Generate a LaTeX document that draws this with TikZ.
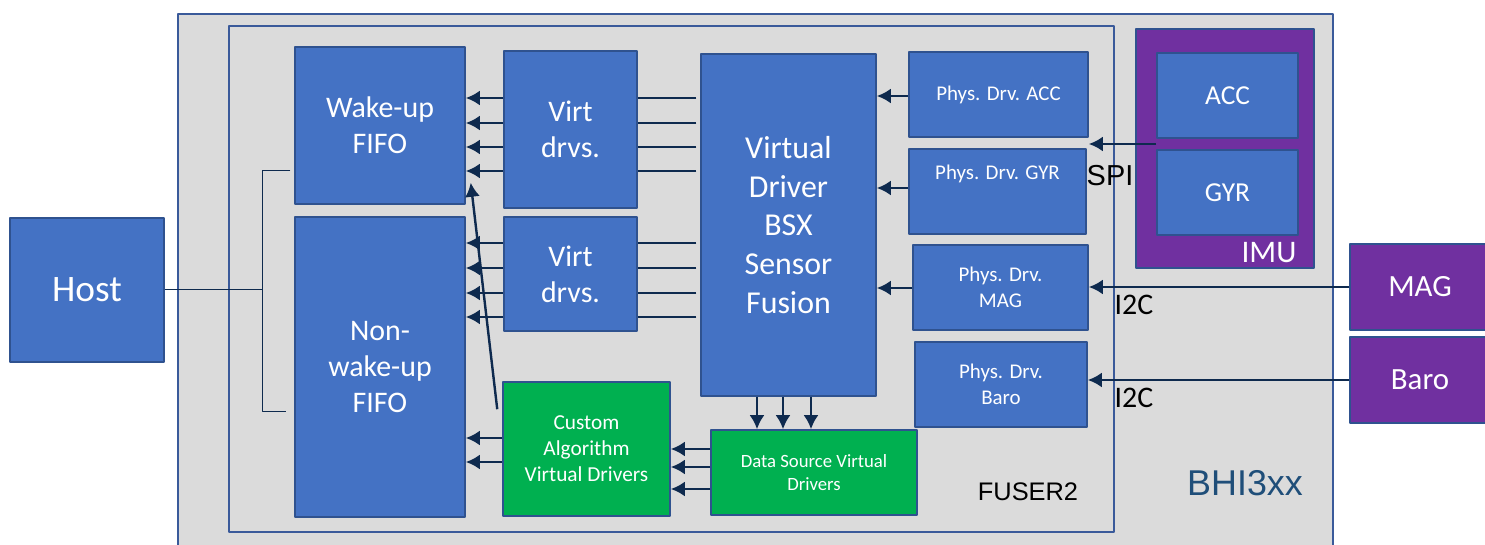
\documentclass[tikz,border=0pt]{standalone}
\usepackage{fontspec}
\setmainfont{Carlito}
\newfontfamily\arialfont{Liberation Sans}
\usepackage{tikz}
\usetikzlibrary{arrows.meta,shapes}
\definecolor{boxblue}{HTML}{4472C4}
\definecolor{boxedge}{HTML}{2F528F}
\definecolor{chipgray}{HTML}{DBDBDB}
\definecolor{chipedge}{HTML}{3A5A9A}
\definecolor{imupurple}{HTML}{7030A0}
\definecolor{algogreen}{HTML}{00B050}
\definecolor{wire}{HTML}{0E2A4E}
\definecolor{bhiblue}{HTML}{1F4E79}

\begin{document}
\begin{tikzpicture}[line join=bevel,
  blk/.style={draw=boxedge,fill=boxblue,line width=1.5bp,text=white,align=center,inner sep=0pt},
  grn/.style={blk,fill=algogreen},
  purp/.style={blk,fill=imupurple},
  feed/.style={-{Latex[length=14bp,width=15bp]},draw=wire,line width=2.8bp},
  tap/.style={draw=wire,line width=2.8bp},
  bus/.style={draw=wire,line width=1bp}]
\useasboundingbox (0bp,0bp) rectangle (1485bp,545bp);
%%
\fill [chipgray] (178bp,0bp) rectangle (1333bp,531bp);
\draw [chipedge,line width=1.8bp] (178bp,0bp) -- (178bp,531bp) -- (1333bp,531bp) -- (1333bp,0bp);
\node (fuser) at (671.5bp,266bp) [draw=chipedge,line width=1.8bp,minimum width=885bp,minimum height=506bp] {};
\node (fuserlabel) at (1028bp,53bp) [font=\arialfont\fontsize{25.5}{28}\selectfont] {FUSER2};
\node (bhilabel) at (1245bp,62bp) [text=bhiblue,font=\arialfont\fontsize{36}{40}\selectfont] {BHI3xx};
%
  \node (host) at (87bp,255bp) [blk,minimum width=154bp,minimum height=144bp,font=\fontsize{37.5}{42}\selectfont] {Host};
  \node (wakefifo) at (380bp,419.5bp) [blk,minimum width=170bp,minimum height=157bp,font=\fontsize{30}{36}\selectfont] {Wake-up\\FIFO};
  \node (nonwakefifo) at (380bp,178bp) [blk,minimum width=170bp,minimum height=300bp,font=\fontsize{30}{36}\selectfont] {Non-\\wake-up\\FIFO};
  \node (virtA) at (570.5bp,415.5bp) [blk,minimum width=133bp,minimum height=157bp,font=\fontsize{30}{36}\selectfont] {Virt\\drvs.};
  \node (virtB) at (570.5bp,271bp) [blk,minimum width=133bp,minimum height=114bp,font=\fontsize{30}{36}\selectfont] {Virt\\drvs.};
  \node (bsx) at (788.5bp,320bp) [blk,minimum width=175bp,minimum height=342bp,font=\fontsize{32}{39}\selectfont] {Virtual\\Driver\\BSX\\Sensor\\Fusion};
  \node (physacc) at (998.5bp,450.5bp) [blk,minimum width=179bp,minimum height=85bp,font=\fontsize{21}{25}\selectfont] {Phys. Drv. ACC};
  \node (physgyr) at (997.5bp,353.5bp) [blk,minimum width=177bp,minimum height=85bp,font=\fontsize{21}{25}\selectfont] {Phys. Drv. GYR\\[14bp]\mbox{}};
  \node (physmag) at (1000.5bp,257.5bp) [blk,minimum width=175bp,minimum height=85bp,font=\fontsize{21}{26}\selectfont] {Phys. Drv.\\MAG};
  \node (physbaro) at (1001bp,160.5bp) [blk,minimum width=172bp,minimum height=85bp,font=\fontsize{21}{26}\selectfont] {Phys. Drv.\\Baro};
  \node (custalg) at (586.5bp,96bp) [grn,minimum width=167bp,minimum height=134bp,font=\fontsize{21.4}{26}\selectfont] {Custom\\Algorithm\\Virtual Drivers};
  \node (datasrc) at (814bp,72.5bp) [grn,minimum width=206bp,minimum height=85bp,font=\fontsize{18.8}{23}\selectfont] {Data Source Virtual\\Drivers};
  \node (imu) at (1225bp,396.5bp) [purp,minimum width=178bp,minimum height=239bp] {};
  \node (imulabel) at (1269bp,292bp) [text=white,font=\fontsize{31.5}{34}\selectfont] {IMU};
  \node (acc) at (1227.5bp,449.5bp) [blk,minimum width=141bp,minimum height=85bp,font=\fontsize{27.5}{30}\selectfont] {ACC};
  \node (gyr) at (1227.5bp,352.5bp) [blk,minimum width=141bp,minimum height=85bp,font=\fontsize{27.5}{30}\selectfont] {GYR};
  \node (mag) at (1420bp,258bp) [purp,minimum width=140bp,minimum height=86bp,font=\fontsize{31}{34}\selectfont] {MAG};
  \node (baro) at (1420bp,165bp) [purp,minimum width=140bp,minimum height=86bp,font=\fontsize{31}{34}\selectfont] {Baro};
  \node (spi) at (1110bp,369bp) [font=\arialfont\fontsize{29}{32}\selectfont] {SPI};
  \node (itcmag) at (1134bp,240bp) [font=\fontsize{30}{32}\selectfont] {I2C};
  \node (itcbaro) at (1134bp,147bp) [font=\fontsize{30}{32}\selectfont] {I2C};
  \coordinate (hostbus) at (262bp,255bp);
%
  \foreach \y in {447,422,398,374} {
    \draw [feed] (virtA.west |- 0,\y bp) -- (wakefifo.east |- 0,\y bp);
    \draw [tap] (bsx.west |- 0,\y bp) ++(-4bp,0) -- (virtA.east |- 0,\y bp);
  }
  \foreach \y in {302,277,252,228} {
    \draw [feed] (virtB.west |- 0,\y bp) -- (nonwakefifo.east |- 0,\y bp);
    \draw [tap] (bsx.west |- 0,\y bp) ++(-4bp,0) -- (virtB.east |- 0,\y bp);
  }
  \foreach \y in {107,83} \draw [feed] (custalg.west |- 0,\y bp) -- (nonwakefifo.east |- 0,\y bp);
  \foreach \y in {96,78,56} \draw [feed] (datasrc.west |- 0,\y bp) -- (custalg.east |- 0,\y bp);
  \foreach \x in {757,783,811} \draw [feed] (\x bp,0 |- bsx.south) -- (\x bp,0 |- datasrc.north);
  \draw [feed,line width=2.4bp] ([xshift=-5bp,yshift=-28bp]custalg.north west) -- ([xshift=5bp,yshift=22bp]wakefifo.south east);
  \draw [feed] (physacc.west |- 0,449bp) -- (bsx.east |- 0,449bp);
  \draw [feed] (physgyr.west |- 0,357bp) -- (bsx.east |- 0,357bp);
  \draw [feed] (physmag.west |- 0,257bp) -- (bsx.east |- 0,257bp);
  \draw [feed] (gyr.west |- 0,401bp) -- (physacc.east |- 0,401bp);
  \draw [feed] (mag.west |- 0,258bp) -- (physmag.east |- 0,258bp);
  \draw [feed] (baro.west |- 0,165bp) -- (physbaro.east |- 0,165bp);
  \draw [bus] (host.east) -- (hostbus);
  \draw [bus] (wakefifo.west |- 0,374bp) ++(-4bp,0) -- (hostbus |- 0,374bp) -- (hostbus |- 0,133bp) -- ++(24bp,0);
%
\end{tikzpicture}
\end{document}
